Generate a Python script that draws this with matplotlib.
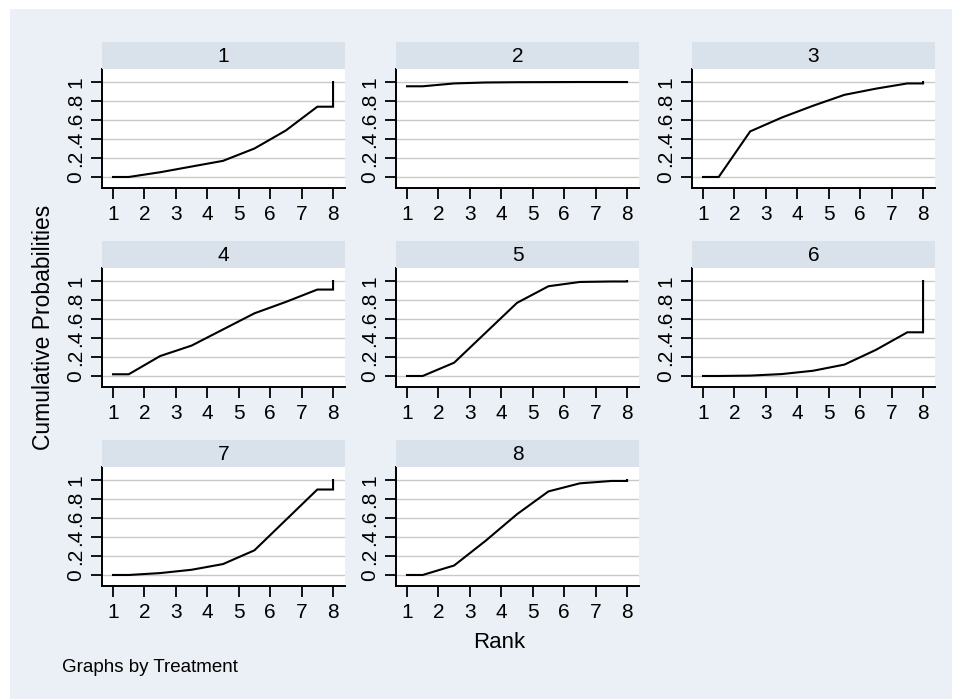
import numpy as np
import matplotlib
matplotlib.use("Agg")
import matplotlib.pyplot as plt

plt.rcParams['font.family'] = ['Liberation Sans', 'DejaVu Sans']

ranks = np.arange(1, 9)
treatments = ["1", "2", "3", "4", "5", "6", "7", "8"]
cum_prob = {
    "1": [0.00, 0.05, 0.11, 0.17, 0.30, 0.49, 0.74, 1.00],
    "2": [0.955, 0.985, 0.995, 0.998, 0.999, 1.00, 1.00, 1.00],
    "3": [0.00, 0.48, 0.625, 0.75, 0.865, 0.93, 0.985, 1.00],
    "4": [0.018, 0.21, 0.32, 0.49, 0.66, 0.78, 0.91, 1.00],
    "5": [0.00, 0.14, 0.455, 0.77, 0.945, 0.99, 0.995, 1.00],
    "6": [0.00, 0.004, 0.02, 0.055, 0.12, 0.275, 0.46, 1.00],
    "7": [0.00, 0.02, 0.055, 0.115, 0.26, 0.58, 0.90, 1.00],
    "8": [0.00, 0.10, 0.36, 0.64, 0.88, 0.965, 0.99, 1.00],
}
yticks = [0, 0.2, 0.4, 0.6, 0.8, 1.0]
ytick_labels = ["0", ".2", ".4", ".6", ".8", "1"]
xticks = list(range(1, 9))

W, H = 955, 700
fig = plt.figure(figsize=(W / 100, H / 100), dpi=100, facecolor="white")

bg = "#eaf0f5"
bgax = fig.add_axes([10 / W, 1 - 699 / H, 942 / W, 690 / H], zorder=-10)
bgax.set_facecolor(bg)
bgax.set_xticks([])
bgax.set_yticks([])
for s in bgax.spines.values():
    s.set_visible(False)

col_left = [102, 396, 692]
row_top = [69, 268, 467]
pw, ph = 243, 119
strip_h = 27
fs_tick = 15

for i, t in enumerate(treatments):
    r, c = divmod(i, 3)
    l = col_left[c]
    top = row_top[r]
    ax = fig.add_axes([l / W, 1 - (top + ph) / H, pw / W, ph / H])
    ax.set_facecolor("white")
    vals = np.array(cum_prob[t])
    x = np.r_[ranks[0], ranks[:-1] + 0.5, ranks[-1], ranks[-1]]
    y = np.r_[vals[0], vals[:-1], vals[-2], vals[-1]]
    ax.plot(x, y, color="black", lw=1.5, zorder=3, solid_joinstyle="miter")
    ax.set_xlim(0.65, 8.38)
    ax.set_ylim(-0.116, 1.137)
    ax.set_yticks(yticks)
    ax.set_yticklabels(ytick_labels, rotation=90, va="center")
    ax.set_xticks(xticks)
    ax.set_xticklabels([str(v) for v in xticks])
    for yv in yticks:
        ax.axhline(yv, color="#c9c9c9", lw=1.0, zorder=1)
    for s in ["top", "right"]:
        ax.spines[s].set_visible(False)
    for s in ["left", "bottom"]:
        ax.spines[s].set_linewidth(1.4)
        ax.spines[s].set_color("black")
    ax.tick_params(axis="both", direction="out", length=8, width=1.3,
                   labelsize=fs_tick, pad=4, colors="black")
    # strip
    sax = fig.add_axes([l / W, 1 - top / H, pw / W, strip_h / H])
    sax.set_facecolor("#d9e1ea")
    sax.set_xticks([])
    sax.set_yticks([])
    for s in sax.spines.values():
        s.set_visible(False)
    sax.text(0.5, 0.45, t, ha="center", va="center", fontsize=fs_tick,
             transform=sax.transAxes)

fig.text(43 / W, 1 - 327 / H, "Cumulative Probabilities", rotation=90,
         ha="center", va="center", fontsize=16.5)
fig.text(499 / W, 1 - 643 / H, "Rank", ha="center", va="center", fontsize=16)
fig.text(62 / W, 1 - 667 / H, "Graphs by Treatment", ha="left", va="center",
         fontsize=13.5)

fig.savefig("out.png", dpi=100, facecolor="white")
